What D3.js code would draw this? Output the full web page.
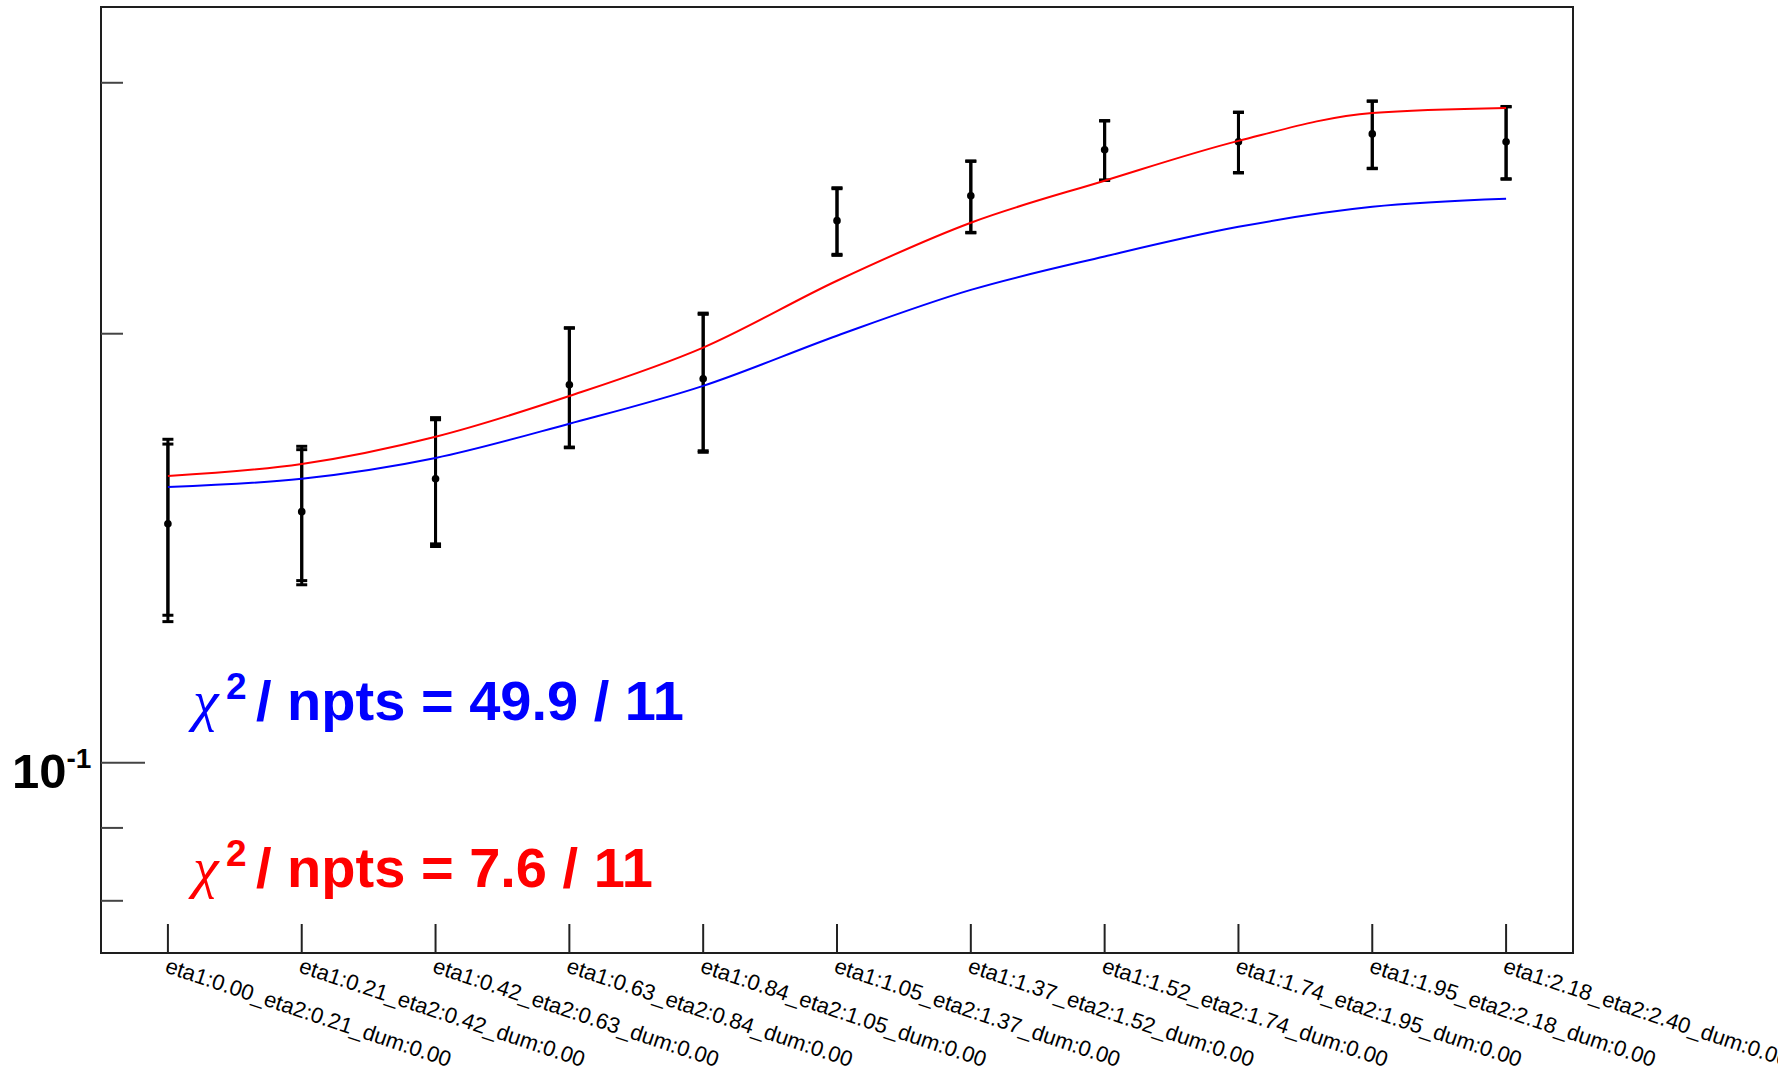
<!DOCTYPE html>
<html>
<head>
<meta charset="utf-8">
<script src="https://cdn.jsdelivr.net/npm/d3@7"></script>
<style>
  html, body { margin: 0; padding: 0; background: #ffffff; }
  svg { display: block; }
</style>
</head>
<body>
<svg id="chart" width="1778" height="1073"></svg>
<script>
// Eta-bin categories along the x axis
const categories = [
  "eta1:0.00_eta2:0.21_dum:0.00",
  "eta1:0.21_eta2:0.42_dum:0.00",
  "eta1:0.42_eta2:0.63_dum:0.00",
  "eta1:0.63_eta2:0.84_dum:0.00",
  "eta1:0.84_eta2:1.05_dum:0.00",
  "eta1:1.05_eta2:1.37_dum:0.00",
  "eta1:1.37_eta2:1.52_dum:0.00",
  "eta1:1.52_eta2:1.74_dum:0.00",
  "eta1:1.74_eta2:1.95_dum:0.00",
  "eta1:1.95_eta2:2.18_dum:0.00",
  "eta1:2.18_eta2:2.40_dum:0.00"
];

// Measured values with total and statistical uncertainties
const measured = [0.1470, 0.1499, 0.1581, 0.1840, 0.1858, 0.2399, 0.2497, 0.2690, 0.2725, 0.2760, 0.2725];
const errTotal = [0.0215, 0.0167, 0.0164, 0.0178, 0.0208, 0.0131, 0.0145, 0.0130, 0.0134, 0.0151, 0.0160];
const errStat  = [0.0202, 0.0158, 0.0158, 0.0176, 0.0204, 0.0127, 0.0143, 0.0128, 0.0132, 0.0149, 0.0158];

// Two model predictions
const predBlue = [0.1560, 0.1581, 0.1635, 0.1728, 0.1837, 0.1992, 0.2145, 0.2264, 0.2375, 0.2453, 0.2485];
const predRed  = [0.1588, 0.1619, 0.1692, 0.1807, 0.1954, 0.2177, 0.2391, 0.2559, 0.2729, 0.2855, 0.2878];

// Goodness-of-fit summaries
const chi2Blue = 49.9;
const chi2Red = 7.6;
const nPoints = 11;

// Log y axis range and ticks
const yDomain = [0.07347, 0.3388];
const yMajorTicks = [0.1];
const yMinorTicks = [0.08, 0.09, 0.2, 0.3];

const frame = { left: 101, top: 7, right: 1573, bottom: 953 };

const svg = d3.select("#chart");

const x = d3.scaleBand()
  .domain(categories)
  .range([frame.left, frame.right])
  .paddingInner(0).paddingOuter(0);
const xc = c => x(c) + x.bandwidth() / 2;

const y = d3.scaleLog()
  .domain(yDomain)
  .range([frame.bottom, frame.top]);

// Frame
svg.append("rect")
  .attr("x", frame.left).attr("y", frame.top)
  .attr("width", frame.right - frame.left)
  .attr("height", frame.bottom - frame.top)
  .attr("fill", "none")
  .attr("stroke", "#1e1e1e")
  .attr("stroke-width", 2);

// Y axis: minor ticks (short, inward)
const yMinor = svg.append("g")
  .attr("transform", `translate(${frame.left},0)`)
  .call(d3.axisLeft(y).tickValues(yMinorTicks).tickSize(-22).tickFormat(() => ""));
yMinor.select(".domain").remove();
yMinor.selectAll(".tick line").attr("stroke", "#444").attr("stroke-width", 2);

// Y axis: major tick with 10^-1 label
const yMajor = svg.append("g")
  .attr("transform", `translate(${frame.left},0)`)
  .call(d3.axisLeft(y).tickValues(yMajorTicks).tickSize(-44).tickFormat(() => ""));
yMajor.select(".domain").remove();
yMajor.selectAll(".tick line").attr("stroke", "#444").attr("stroke-width", 2);
yMajor.selectAll(".tick text").each(function(d) {
  const t = d3.select(this)
    .attr("x", null).attr("dy", null)
    .attr("text-anchor", "start")
    .attr("fill", "#000")
    .style("font-family", "'Liberation Sans', Arial, Helvetica, sans-serif")
    .style("font-weight", "bold");
  const exp = Math.round(Math.log10(d));
  t.append("tspan").attr("x", -89).attr("y", 25).style("font-size", "49px").text("10");
  t.append("tspan").attr("dy", -20).style("font-size", "28px").text(String(exp));
});

// X axis with rotated bin labels
const xAxis = svg.append("g")
  .attr("transform", `translate(0,${frame.bottom})`)
  .call(d3.axisBottom(x).tickSize(-29).tickSizeOuter(0));
xAxis.select(".domain").remove();
xAxis.selectAll(".tick line").attr("stroke", "#222").attr("stroke-width", 2);
xAxis.selectAll(".tick text")
  .attr("x", 0).attr("y", 0).attr("dy", null)
  .attr("text-anchor", "start")
  .attr("transform", "translate(-4,19) rotate(18.5)")
  .attr("fill", "#000")
  .style("font-family", "'Liberation Sans', Arial, Helvetica, sans-serif")
  .style("font-size", "22px");

// Error bars: total and statistical, each with end caps
const capHalf = 5.5;
function drawErrors(errs, cls) {
  const g = svg.append("g").attr("class", cls)
    .attr("stroke", "#000").attr("stroke-width", 3).attr("fill", "none");
  categories.forEach((c, i) => {
    const cx = xc(c);
    const yHi = y(measured[i] + errs[i]);
    const yLo = y(measured[i] - errs[i]);
    g.append("line").attr("x1", cx).attr("x2", cx).attr("y1", yHi).attr("y2", yLo);
    g.append("line").attr("x1", cx - capHalf).attr("x2", cx + capHalf).attr("y1", yHi).attr("y2", yHi);
    g.append("line").attr("x1", cx - capHalf).attr("x2", cx + capHalf).attr("y1", yLo).attr("y2", yLo);
  });
}
drawErrors(errTotal, "err-total");
drawErrors(errStat, "err-stat");

// Data markers
svg.append("g").selectAll("circle")
  .data(categories)
  .join("circle")
  .attr("cx", c => xc(c))
  .attr("cy", (c, i) => y(measured[i]))
  .attr("r", 3.8)
  .attr("fill", "#000");

// Prediction curves
const line = d3.line()
  .x(d => xc(d.c))
  .y(d => y(d.v))
  .curve(d3.curveMonotoneX);

svg.append("path")
  .datum(categories.map((c, i) => ({ c, v: predBlue[i] })))
  .attr("d", line)
  .attr("fill", "none")
  .attr("stroke", "#0000ff")
  .attr("stroke-width", 2);

svg.append("path")
  .datum(categories.map((c, i) => ({ c, v: predRed[i] })))
  .attr("d", line)
  .attr("fill", "none")
  .attr("stroke", "#ff0000")
  .attr("stroke-width", 2);

// Chi-square annotations
function chiLabel(value, color, baseY) {
  const t = svg.append("text").attr("fill", color);
  t.append("tspan")
    .attr("x", 193).attr("y", baseY)
    .style("font-family", "'Liberation Serif', 'DejaVu Serif', serif")
    .style("font-style", "italic")
    .style("font-size", "58px")
    .text("χ");
  t.append("tspan")
    .attr("x", 226).attr("y", baseY - 21)
    .style("font-family", "'Liberation Sans', Arial, sans-serif")
    .style("font-weight", "bold")
    .style("font-size", "37px")
    .text("2");
  t.append("tspan")
    .attr("x", 256).attr("y", baseY)
    .style("font-family", "'Liberation Sans', Arial, sans-serif")
    .style("font-weight", "bold")
    .style("font-size", "56px")
    .text(`/ npts = ${value} / ${nPoints}`);
}
chiLabel(chi2Blue.toFixed(1), "#0000ff", 720);
chiLabel(chi2Red.toFixed(1), "#ff0000", 887);
</script>
</body>
</html>
